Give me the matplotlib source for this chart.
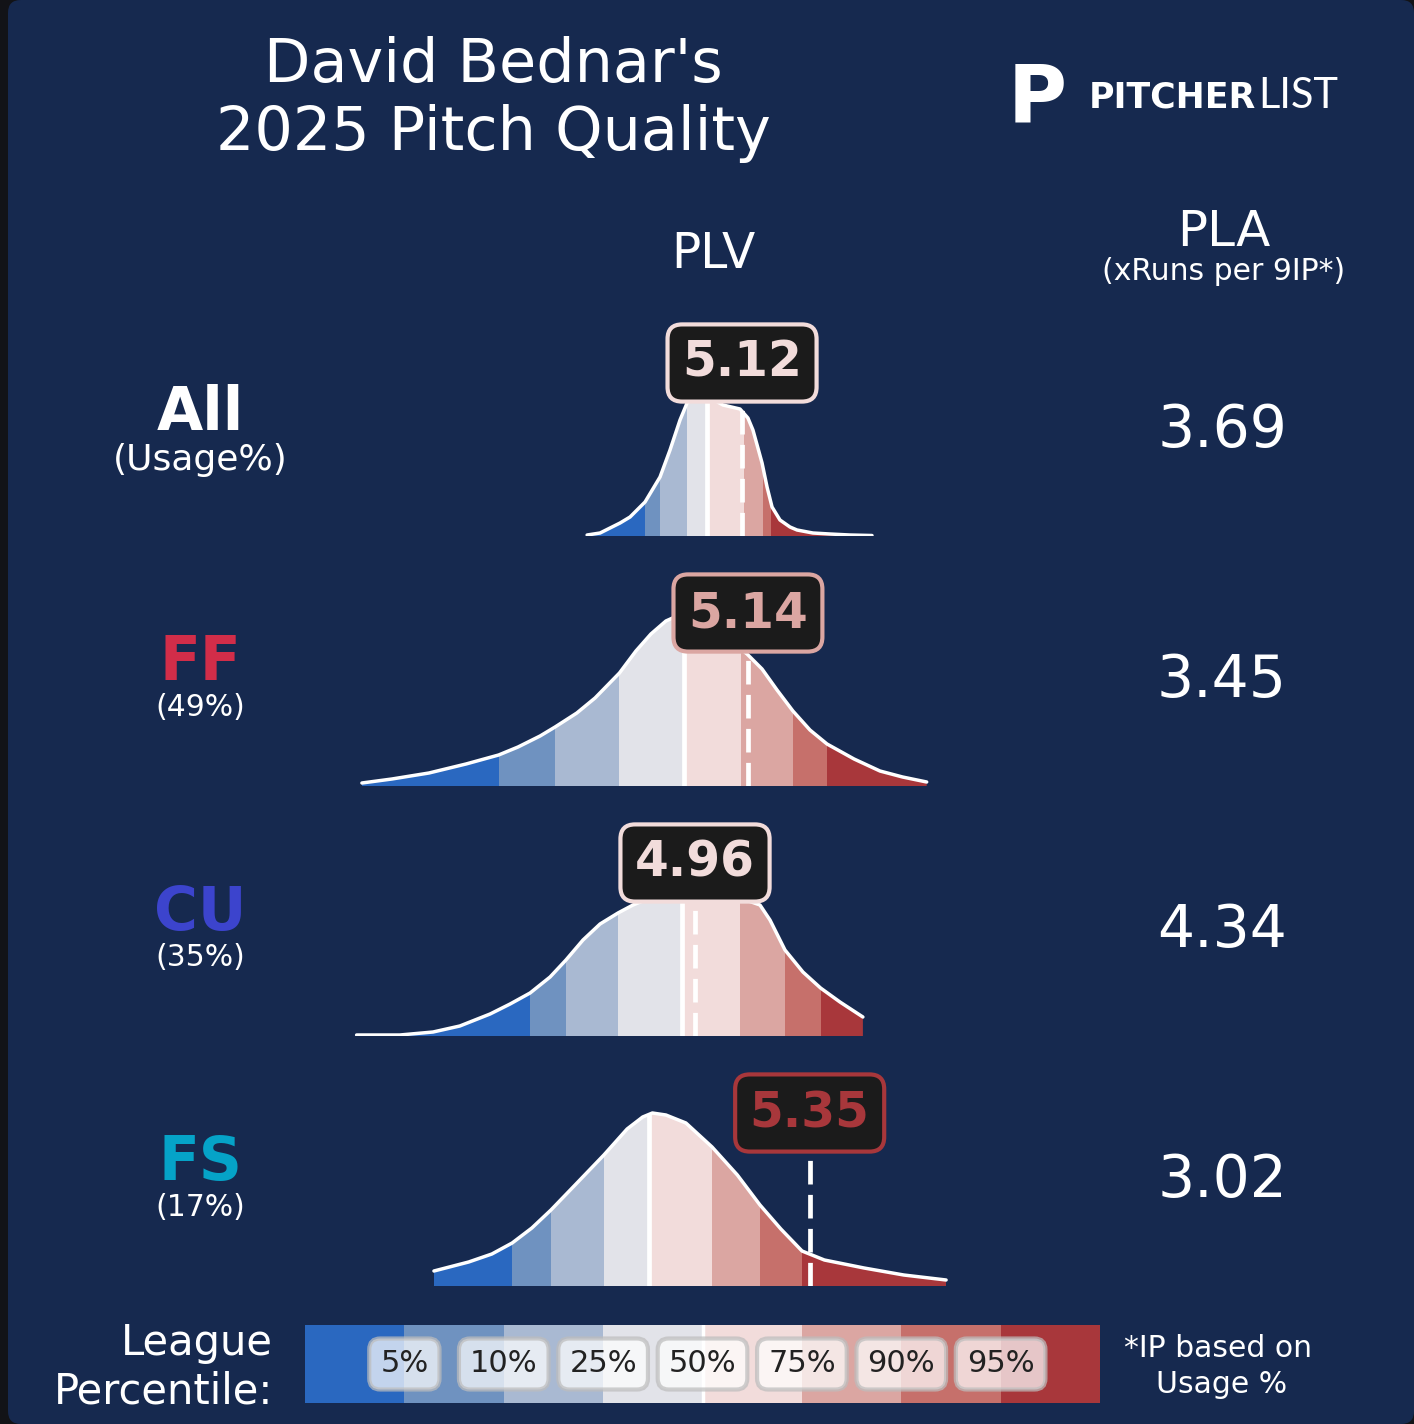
import matplotlib
matplotlib.use('Agg')
import matplotlib.pyplot as plt
from matplotlib.patches import FancyBboxPatch, Polygon

W = 1414
H = 1424

# ---- data ----
pitch_names = ['All', 'FF', 'CU', 'FS']
pitch_colors = ['#ffffff', '#d22d49', '#3c44cd', '#05a3c8']
usage_labels = ['(Usage%)', '(49%)', '(35%)', '(17%)']
plv_values = [5.12, 5.14, 4.96, 5.35]
pla_values = [3.69, 3.45, 4.34, 3.02]

pct_labels = ['5%', '10%', '25%', '50%', '75%', '90%', '95%']
band_colors = ['#2a68c0', '#6f92c0', '#a9b9d2', '#e2e3e9',
               '#f2dcdb', '#dba6a2', '#c6706b', '#a8373b']

# league percentile cut points (5,10,25,50,75,90,95) in PLV
cut_all = [4.790, 4.841, 4.933, 5.001, 5.127, 5.191, 5.218]
cut_ff = [4.292, 4.484, 4.703, 4.921, 5.118, 5.293, 5.410]
cut_cu = [4.399, 4.521, 4.699, 4.915, 5.113, 5.266, 5.387]
cut_fs = [4.338, 4.470, 4.651, 4.804, 5.018, 5.181, 5.324]

# league PLV density curves
x_all = [4.593, 4.637, 4.671, 4.705, 4.739, 4.790, 4.841, 4.875, 4.909, 4.933,
         4.967, 5.001, 5.055, 5.113, 5.140, 5.157, 5.174, 5.188, 5.205, 5.222,
         5.249, 5.283, 5.307, 5.361, 5.419, 5.487, 5.562]
d_all = [0.01, 0.03, 0.08, 0.13, 0.19, 0.34, 0.59, 0.86, 1.16, 1.33,
         1.40, 1.40, 1.31, 1.27, 1.18, 1.06, 0.88, 0.73, 0.49, 0.29,
         0.16, 0.09, 0.06, 0.03, 0.02, 0.01, 0.005]

x_ff = [3.827, 3.929, 4.055, 4.181, 4.292, 4.358, 4.433, 4.484, 4.558, 4.620,
        4.703, 4.759, 4.810, 4.861, 4.899, 4.943, 4.994, 5.045, 5.096, 5.137,
        5.188, 5.239, 5.293, 5.351, 5.409, 5.501, 5.589, 5.666, 5.748]
d_ff = [0.03, 0.07, 0.13, 0.22, 0.31, 0.39, 0.50, 0.59, 0.73, 0.88,
        1.13, 1.35, 1.52, 1.65, 1.70, 1.69, 1.62, 1.52, 1.42, 1.32,
        1.17, 0.96, 0.75, 0.56, 0.42, 0.27, 0.15, 0.09, 0.04]

x_cu = [3.809, 3.956, 4.069, 4.160, 4.263, 4.331, 4.399, 4.467, 4.521, 4.579,
        4.637, 4.698, 4.749, 4.807, 4.909, 5.011, 5.113, 5.181, 5.215, 5.266,
        5.327, 5.387, 5.453, 5.531]
d_cu = [0.01, 0.01, 0.04, 0.10, 0.22, 0.32, 0.43, 0.59, 0.76, 0.96,
        1.12, 1.23, 1.31, 1.38, 1.43, 1.43, 1.38, 1.31, 1.16, 0.86,
        0.64, 0.48, 0.34, 0.19]

x_fs = [4.072, 4.190, 4.269, 4.338, 4.405, 4.470, 4.552, 4.650, 4.729, 4.782,
        4.815, 4.861, 4.929, 5.018, 5.104, 5.181, 5.252, 5.324, 5.400, 5.535,
        5.670, 5.814]
d_fs = [0.15, 0.24, 0.32, 0.43, 0.58, 0.76, 1.01, 1.31, 1.57, 1.69,
        1.73, 1.71, 1.63, 1.39, 1.11, 0.81, 0.57, 0.35, 0.26, 0.18,
        0.11, 0.06]

curves_x = [x_all, x_ff, x_cu, x_fs]
curves_d = [d_all, d_ff, d_cu, d_fs]
cuts = [cut_all, cut_ff, cut_cu, cut_fs]

bg = '#16294f'
box_bg = '#1b1b1b'

fig = plt.figure(figsize=(W / 100, H / 100), dpi=100)
fig.patch.set_facecolor('#121317')
panel = FancyBboxPatch((8 / W, 0), 1 - 8 / W, 1, boxstyle='round,pad=0,rounding_size=0.009',
                       transform=fig.transFigure, facecolor=bg, edgecolor='none', zorder=-5)
fig.patches.append(panel)


def ftext(x, y, s, **kw):
    kw.setdefault('color', 'white')
    kw.setdefault('ha', 'center')
    kw.setdefault('va', 'baseline')
    return fig.text(x / W, 1 - y / H, s, **kw)


def band_color(v, c):
    i = 0
    while i < len(c) and v > c[i]:
        i += 1
    return band_colors[i]


# title and headers
ftext(493, 82, "David Bednar's", fontsize=43.5)
ftext(493, 150, '2025 Pitch Quality', fontsize=43.5)
ftext(713, 268, 'PLV', fontsize=35)
ftext(1224, 246, 'PLA', fontsize=36)
ftext(1224, 280, '(xRuns per 9IP*)', fontsize=21.5)

# logo
ftext(1037, 122, 'P', fontsize=58, fontweight='heavy')
ftext(1256, 108, 'PITCHER', fontsize=25, fontweight='bold', ha='right')
ftext(1258, 108, 'LIST', fontsize=30, ha='left', family=['Lato', 'DejaVu Sans'])

# rows
xlo = 2.596
xhi = 2.596 + W / 294
for i in range(4):
    base = 536 + 250 * i
    ax = fig.add_axes([0, 1 - base / H, 1, 250 / H])
    ax.set_xlim(xlo, xhi)
    ax.set_ylim(0, 2.5)
    ax.axis('off')
    ax.patch.set_alpha(0)

    xs = curves_x[i]
    ds = curves_d[i]
    c = cuts[i]
    pts = list(zip(xs, ds)) + [(xs[-1], 0), (xs[0], 0)]
    poly = Polygon(pts, closed=True, facecolor='none', edgecolor='none')
    ax.add_patch(poly)

    edges = [xs[0]] + c + [xs[-1]]
    for k in range(8):
        sp = ax.axvspan(edges[k], edges[k + 1], color=band_colors[k], lw=0, zorder=1)
        sp.set_clip_path(poly)
    med = ax.axvline(c[3], color='white', lw=3.4, zorder=2)
    med.set_clip_path(poly)
    ax.plot(xs, ds, color='white', lw=2.5, zorder=3, solid_capstyle='round',
            solid_joinstyle='round')

    v = plv_values[i]
    ax.plot([v, v], [0, 1.73], color='white', lw=3.4, dashes=(5, 2.2), zorder=4)
    tc = band_color(v, c)
    ax.text(v, 1.73, '%.2f' % v, ha='center', va='center', fontsize=35,
            fontweight='bold', color=tc, zorder=6,
            bbox=dict(boxstyle='round,pad=0.3,rounding_size=0.3', fc=box_bg, ec=tc, lw=3))

    ftext(200, base - 106, pitch_names[i], fontsize=43, fontweight='bold',
          color=pitch_colors[i])
    if i == 0:
        ftext(200, base - 66, usage_labels[i], fontsize=26)
    else:
        ftext(200, base - 70, usage_labels[i], fontsize=21.5)
    ftext(1222, base - 89, '%.2f' % pla_values[i], fontsize=42)

# legend
lax = fig.add_axes([305 / W, 1 - 1403 / H, 795 / W, 78 / H])
lax.bar(range(8), [1] * 8, width=1.0, color=band_colors, lw=0)
lax.axvline(3.5, color='white', lw=2.5)
lax.set_xlim(-0.5, 7.5)
lax.set_ylim(0, 1)
lax.axis('off')
for k in range(7):
    lax.text(k + 0.5, 0.5, pct_labels[k], ha='center', va='center', fontsize=22,
             color='#222222',
             bbox=dict(boxstyle='round,pad=0.36', fc='white', ec='#bdbdbd', lw=3, alpha=0.72))

ftext(273, 1355, 'League', fontsize=30, ha='right')
ftext(273, 1403, 'Percentile:', fontsize=30, ha='right')
ftext(1218, 1357, '*IP based on', fontsize=21.5)
ftext(1222, 1393, 'Usage %', fontsize=21.5)

fig.savefig('out.png', dpi=100, facecolor=fig.get_facecolor())
